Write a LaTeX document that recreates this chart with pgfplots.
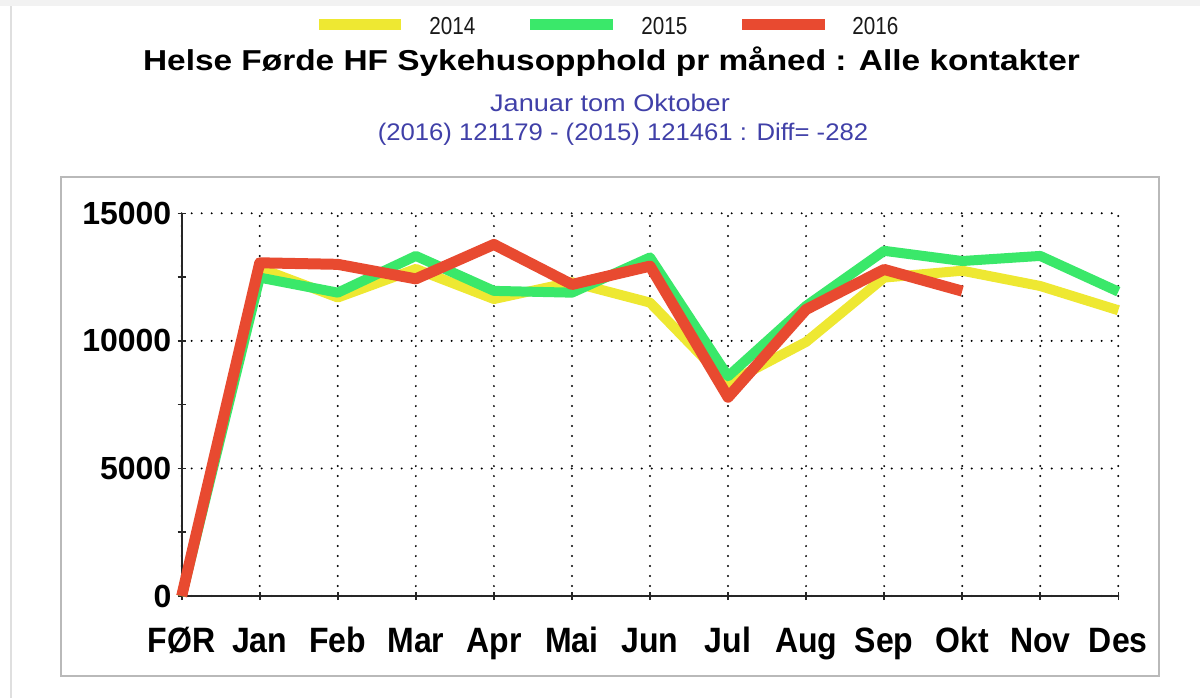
\documentclass[border=0pt]{standalone}
\usepackage{fontspec}
\setmainfont{Liberation Sans}
\usepackage{graphicx}
\usepackage{pgfplots}
\pgfplotsset{compat=1.18}
\definecolor{cy}{RGB}{238,232,50}
\definecolor{cg}{RGB}{58,232,106}
\definecolor{cr}{RGB}{232,74,48}
\definecolor{cb}{RGB}{64,64,168}
\definecolor{framec}{RGB}{185,185,185}
\newcommand{\tl}[1]{\scalebox{1}[1.1]{#1}}

\pgfplotstableread{
x y
0 0
1 12850
2 11700
3 12820
4 11640
5 12300
6 11500
7 8350
8 9960
9 12480
10 12750
11 12150
12 11200
}\dataA
\pgfplotstableread{
x y
0 0
1 12480
2 11890
3 13330
4 11960
5 11890
6 13270
7 8610
8 11370
9 13530
10 13130
11 13330
12 11930
}\dataB
\pgfplotstableread{
x y
0 0
1 13060
2 13000
3 12430
4 13780
5 12210
6 12930
7 7790
8 11230
9 12800
10 11950
}\dataC

\begin{document}
\begin{tikzpicture}
\path[use as bounding box] (0,0) rectangle (600pt,-349pt);
\fill[gray!10] (0,0) rectangle (600pt,-3pt);
\draw[gray!25, line width=1pt] (5.5pt,-3pt) -- (5.5pt,-349pt);
\draw[framec, line width=1pt] (30.5pt,-88.5pt) rectangle (579.5pt,-338pt);

% legend
\draw[cy, line width=5.5pt] (159.5pt,-12.3pt) -- (200.5pt,-12.3pt);
\draw[cg, line width=5.5pt] (265pt,-12.3pt) -- (306.5pt,-12.3pt);
\draw[cr, line width=5.5pt] (371pt,-12.3pt) -- (412.5pt,-12.3pt);
\node[anchor=base west, inner sep=0pt, text=black!90, font=\fontsize{12.3}{14}\selectfont] at (214.5pt,-17.2pt) {\scalebox{0.84}[1]{2014}};
\node[anchor=base west, inner sep=0pt, text=black!90, font=\fontsize{12.3}{14}\selectfont] at (320.5pt,-17.2pt) {\scalebox{0.84}[1]{2015}};
\node[anchor=base west, inner sep=0pt, text=black!90, font=\fontsize{12.3}{14}\selectfont] at (426pt,-17.2pt) {\scalebox{0.84}[1]{2016}};

% titles
\node[anchor=base, inner sep=0pt, font=\fontsize{14.4}{17}\selectfont\bfseries] at (305.75pt,-35.35pt) {\scalebox{1.16}[1]{Helse Førde HF Sykehusopphold pr måned : Alle kontakter}};
\node[anchor=base, inner sep=0pt, text=cb, font=\fontsize{12}{14}\selectfont] at (305pt,-55.5pt) {\scalebox{1.13}[1]{Januar tom Oktober}};
\node[anchor=base, inner sep=0pt, text=cb, font=\fontsize{12}{14}\selectfont] at (311.5pt,-70.4pt) {\scalebox{1.07}[1]{(2016) 121179 - (2015) 121461 : Diff= -282}};

\begin{axis}[
  at={(90.85pt,-298pt)}, anchor=south west,
  scale only axis, width=468.3pt, height=191.35pt,
  xmin=0, xmax=12, ymin=0, ymax=15000,
  axis x line=bottom, axis y line=left,
  axis line style={-, line width=1pt, black!85},
  xtick={0,...,12},
  xticklabels={\tl{FØR},\tl{Jan},\tl{Feb},\tl{Mar},\tl{Apr},\tl{Mai},\tl{Jun},\tl{Jul},\tl{Aug},\tl{Sep},\tl{Okt},\tl{Nov},\tl{Des}},
  ytick={0,5000,10000,15000}, minor ytick={2500,7500,12500},
  tick align=center, major tick length=4pt, minor tick length=4pt,
  every tick/.style={black!85, line width=0.8pt},
  grid=major,
  major grid style={black, line width=1.1pt, line cap=round, dash pattern=on 0pt off 5pt},
  ticklabel style={font=\fontsize{16}{18}\selectfont\bfseries},
  /pgf/number format/assume math mode=true,
  /pgf/number format/1000 sep={},
  scaled y ticks=false,
  yticklabel style={inner sep=0pt, xshift=-3pt},
  xticklabel style={anchor=base, inner sep=0pt, yshift=-26pt},
  clip=false,
  line join=round,
]
\addplot[cy, line width=5pt, no marks] table[x=x,y=y] {\dataA};
\addplot[cg, line width=5pt, no marks] table[x=x,y=y] {\dataB};
\addplot[cr, line width=5.5pt, no marks] table[x=x,y=y] {\dataC};
\end{axis}
\end{tikzpicture}
\end{document}
